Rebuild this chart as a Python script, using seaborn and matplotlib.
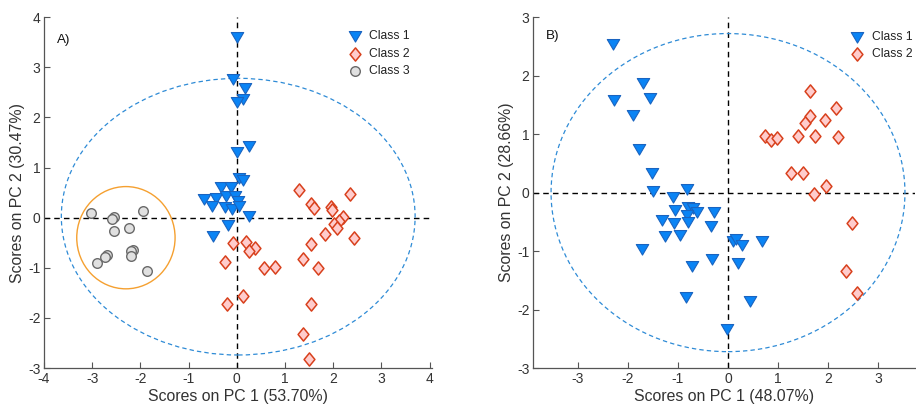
import numpy as np
import pandas as pd
import matplotlib
matplotlib.use("Agg")
import matplotlib.pyplot as plt
from matplotlib.patches import Ellipse
from matplotlib.path import Path
import seaborn as sns

# ---------------- data: panel A ----------------
a_c1_x = [0.00, -0.07, 0.17, 0.13, 0.01, 0.25, 0.01, 0.05, 0.13, -0.32, -0.13, -0.67, -0.43,
          -0.51, -0.22, -0.04, -0.25, -0.09, 0.03, 0.05, 0.25, -0.18, -0.50]
a_c1_y = [3.61, 2.76, 2.59, 2.36, 2.31, 1.43, 1.31, 0.80, 0.76, 0.62, 0.62, 0.37, 0.40,
          0.23, 0.44, 0.44, 0.21, 0.17, 0.33, 0.23, 0.03, -0.15, -0.36]
a_c2_x = [1.30, 1.53, 1.60, 1.95, 1.98, 2.34, 2.20, 2.12, 2.01, 2.08, 1.84, 2.44, 1.53, -0.07,
          0.20, 0.38, 0.26, 1.38, -0.24, 0.56, 0.79, 1.68, 0.13, -0.20, 1.54, 1.37, 1.49]
a_c2_y = [0.55, 0.27, 0.20, 0.21, 0.15, 0.47, 0.01, -0.07, -0.13, -0.21, -0.32, -0.40, -0.52, -0.51,
          -0.48, -0.60, -0.67, -0.82, -0.88, -1.00, -0.98, -1.00, -1.56, -1.73, -1.73, -2.32, -2.83]
a_c3_x = [-3.02, -2.54, -2.59, -1.95, -2.55, -2.24, -2.15, -2.20, -2.20, -2.70, -2.74, -2.91, -1.87]
a_c3_y = [0.09, 0.01, -0.03, 0.14, -0.27, -0.21, -0.64, -0.67, -0.77, -0.75, -0.79, -0.90, -1.07]

# ---------------- data: panel B ----------------
b_c1_x = [-2.29, -1.70, -2.27, -1.55, -1.90, -1.78, -1.52, -1.50, -1.10, -0.81, -1.05, -1.32,
          -1.07, -1.26, -0.96, -0.79, -0.69, -0.62, -0.82, -0.79, -0.28, -0.33, -1.71, -0.72,
          -0.32, 0.10, 0.15, 0.27, 0.67, 0.19, -0.84, 0.44, -0.02]
b_c1_y = [2.54, 1.87, 1.58, 1.61, 1.32, 0.74, 0.33, 0.03, -0.07, 0.06, -0.30, -0.47,
          -0.52, -0.74, -0.72, -0.24, -0.27, -0.34, -0.38, -0.50, -0.33, -0.57, -0.96, -1.25,
          -1.13, -0.82, -0.80, -0.89, -0.82, -1.21, -1.79, -1.86, -2.34]
b_c2_x = [1.64, 2.16, 1.63, 1.54, 1.94, 1.40, 1.74, 2.19, 0.74, 0.86, 0.98, 1.25, 1.50,
          1.96, 1.72, 2.48, 2.36, 2.57]
b_c2_y = [1.73, 1.45, 1.31, 1.19, 1.24, 0.97, 0.97, 0.95, 0.96, 0.90, 0.93, 0.33, 0.33,
          0.11, -0.02, -0.52, -1.34, -1.72]

# confidence ellipses (center x, center y, half-width, half-height)
a_ellipse = [0.03, 0.02, 3.67, 2.76]
a_class3_circle = [-2.30, -0.40, 1.02, 1.02]
b_ellipse = [0.0, 0.0, 3.53, 2.72]

labels_a = ["Class 1", "Class 2", "Class 3"]
xlabel_a = "Scores on PC 1 (53.70%)"
ylabel_a = "Scores on PC 2 (30.47%)"
xlabel_b = "Scores on PC 1 (48.07%)"
ylabel_b = "Scores on PC 2 (28.66%)"

# ---------------- styling ----------------
sns.set_theme(style="white")
plt.rcParams["font.family"] = ["Liberation Sans", "DejaVu Sans"]
plt.rcParams["axes.edgecolor"] = "#555555"
plt.rcParams["xtick.color"] = "#555555"
plt.rcParams["ytick.color"] = "#555555"
plt.rcParams["xtick.labelcolor"] = "#333333"
plt.rcParams["ytick.labelcolor"] = "#333333"

tri = Path([(-1, 0.8), (1, 0.8), (0, -0.9), (-1, 0.8)], closed=True)
dia = Path([(0, 1), (0.82, 0), (0, -1), (-0.82, 0), (0, 1)], closed=True)
styles = {
    "Class 1": dict(marker=tri, color="#0A84F5", edgecolor="#1A64C0", s=80, linewidth=0.8),
    "Class 2": dict(marker=dia, color="#FFCCCC", edgecolor="#D8401C", s=90, linewidth=1.1),
    "Class 3": dict(marker="o", color="#E0E0E0", edgecolor="#6A6A6A", s=48, linewidth=1.0),
}

def make_df(xs, ys, labels):
    frames = []
    for x, y, lab in zip(xs, ys, labels):
        frames.append(pd.DataFrame({"x": x, "y": y, "cls": lab}))
    return pd.concat(frames, ignore_index=True)

df_a = make_df([a_c1_x, a_c2_x, a_c3_x], [a_c1_y, a_c2_y, a_c3_y], labels_a)
df_b = make_df([b_c1_x, b_c2_x], [b_c1_y, b_c2_y], labels_a[:2])

fig = plt.figure(figsize=(9.16, 4.09), dpi=100)
ax_a = fig.add_axes([0.048, 0.1002, 0.4236, 0.8578])
ax_b = fig.add_axes([0.5819, 0.1002, 0.4170, 0.8578])

def draw(ax, df, ell, xlim, ylim, xticks, yticks, xlabel, ylabel, tag, tag_y, leg_anchor):
    ax.axhline(0, color="black", lw=1.0, ls=(0, (4, 3)), zorder=1)
    ax.axvline(0, color="black", lw=1.0, ls=(0, (4, 3)), zorder=1)
    cx, cy, w, h = ell
    ax.add_patch(Ellipse((cx, cy), 2 * w, 2 * h, fill=False, ec="#2E8BD6", lw=0.9,
                         ls=(0, (3.5, 2.5)), zorder=1))
    for lab in df["cls"].unique():
        sub = df[df["cls"] == lab]
        sns.scatterplot(data=sub, x="x", y="y", ax=ax, label=lab, zorder=3, **styles[lab])
    ax.set_xlim(*xlim)
    ax.set_ylim(*ylim)
    ax.set_xticks(xticks)
    ax.set_yticks(yticks)
    ax.set_xticklabels([("%g" % t) for t in xticks])
    ax.set_yticklabels([("%g" % t) for t in yticks])
    ax.tick_params(direction="in", length=4, width=0.8, labelsize=10, pad=3,
                   bottom=True, left=True)
    ax.tick_params(axis="y", pad=2.5)
    for sp in ["top", "right"]:
        ax.spines[sp].set_visible(False)
    for sp in ["left", "bottom"]:
        ax.spines[sp].set_linewidth(0.9)
    ax.set_xlabel(xlabel, fontsize=11.4, color="#333333", labelpad=2)
    ax.set_ylabel(ylabel, fontsize=11.4, color="#333333", labelpad=2)
    ax.text(0.034, tag_y, tag, transform=ax.transAxes, fontsize=9.6, color="#111111",
            va="center", ha="left")
    leg = ax.legend(loc="upper left", bbox_to_anchor=leg_anchor, frameon=False,
                    fontsize=8.7, handlelength=1.0, handletextpad=0.7,
                    labelspacing=0.45, borderaxespad=0)
    for t in leg.get_texts():
        t.set_color("#222222")

draw(ax_a, df_a, a_ellipse, (-4, 4.05), (-3, 4), [-4, -3, -2, -1, 0, 1, 2, 3, 4],
     [-3, -2, -1, 0, 1, 2, 3, 4], xlabel_a, ylabel_a, "A)", 0.934, (0.773, 0.976))
ax_a.add_patch(Ellipse((a_class3_circle[0], a_class3_circle[1]), 2 * a_class3_circle[2],
                       2 * a_class3_circle[3], fill=False, ec="#F5A030", lw=1.0, zorder=2))
draw(ax_b, df_b, b_ellipse, (-3.89, 3.73), (-3, 3), [-3, -2, -1, 0, 1, 2, 3],
     [-3, -2, -1, 0, 1, 2, 3], xlabel_b, ylabel_b, "B)", 0.946, (0.82, 0.975))

fig.savefig("out.png", dpi=100)
